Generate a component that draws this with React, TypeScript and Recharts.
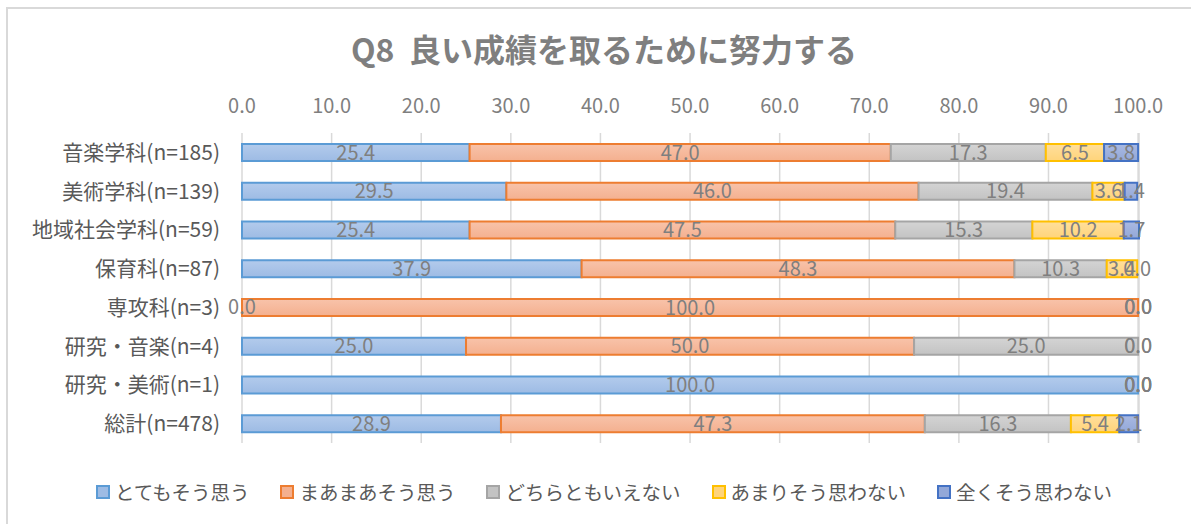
import React from "react"
import { Bar, BarChart, CartesianGrid, LabelList, ReferenceDot, XAxis, YAxis } from "recharts"

// categories (departments) and answer shares in %
const categories = [
  "音楽学科(n=185)",
  "美術学科(n=139)",
  "地域社会学科(n=59)",
  "保育科(n=87)",
  "専攻科(n=3)",
  "研究・音楽(n=4)",
  "研究・美術(n=1)",
  "総計(n=478)",
]
const veryMuch = [25.4, 29.5, 25.4, 37.9, 0.0, 25.0, 100.0, 28.9]
const somewhat = [47.0, 46.0, 47.5, 48.3, 100.0, 50.0, 0.0, 47.3]
const neither = [17.3, 19.4, 15.3, 10.3, 0.0, 25.0, 0.0, 16.3]
const notMuch = [6.5, 3.6, 10.2, 3.4, 0.0, 0.0, 0.0, 5.4]
const notAtAll = [3.8, 1.4, 1.7, 0.0, 0.0, 0.0, 0.0, 2.1]
const xTicks = [0, 10, 20, 30, 40, 50, 60, 70, 80, 90, 100]

const series = [
  { key: "s1", name: "とてもそう思う", values: veryMuch, top: "#b3cbec", bottom: "#9dbbe4", stroke: "#5b9bd5" },
  { key: "s2", name: "まあまあそう思う", values: somewhat, top: "#f8c3aa", bottom: "#f4b08f", stroke: "#ed7d31" },
  { key: "s3", name: "どちらともいえない", values: neither, top: "#d4d4d4", bottom: "#c3c3c3", stroke: "#a5a5a5" },
  { key: "s4", name: "あまりそう思わない", values: notMuch, top: "#ffdf9c", bottom: "#ffd47a", stroke: "#ffc000" },
  { key: "s5", name: "全くそう思わない", values: notAtAll, top: "#a9b9e2", bottom: "#93a8d8", stroke: "#4472c4" },
]

const data = categories.map((name, i) => {
  const row: { [k: string]: any } = { name }
  series.forEach((s) => {
    row[s.key] = s.values[i]
  })
  return row
})

// Excel still prints "0.0" for empty segments; recharts skips labels of zero-width bars,
// so those go in as reference dots at the stack position
const zeroLabels: { cat: string; at: number; id: string }[] = []
categories.forEach((cat, i) => {
  let acc = 0
  series.forEach((s) => {
    if (s.values[i] === 0) zeroLabels.push({ cat, at: acc, id: `${s.key}-${i}` })
    acc += s.values[i]
  })
})

const FONT = "'Noto Sans CJK JP', 'Noto Sans', sans-serif"
const TEXT = "#595959"
const LABEL = "#7f7f7f"

export default function App() {
  return (
    <div
      style={{
        position: "absolute",
        left: 0,
        top: 0,
        width: 1191,
        height: 524,
        overflow: "hidden",
        background: "#fff",
        fontFamily: FONT,
      }}
    >
      <div
        style={{
          position: "absolute",
          left: 6,
          top: 7,
          width: 1200,
          height: 530,
          borderLeft: "2px solid #d9d9d9",
          borderTop: "2px solid #d9d9d9",
        }}
      />
      <div
        style={{
          position: "absolute",
          left: 0,
          width: 1208,
          top: 26,
          textAlign: "center",
          fontSize: 32,
          fontWeight: "bold",
          color: LABEL,
          lineHeight: "44px",
          whiteSpace: "pre",
        }}
      >
        {"Q8  良い成績を取るために努力する"}
      </div>
      <div style={{ position: "absolute", left: 0, top: 0 }}>
        <BarChart
          width={1191}
          height={524}
          data={data}
          layout="vertical"
          margin={{ top: 80, right: 52, bottom: 81, left: 0 }}
          barSize={17}
        >
          <defs>
            {series.map((s) => (
              <linearGradient key={s.key} id={`g-${s.key}`} x1="0" y1="0" x2="0" y2="1">
                <stop offset="0%" stopColor={s.top} />
                <stop offset="100%" stopColor={s.bottom} />
              </linearGradient>
            ))}
          </defs>
          <CartesianGrid horizontal={false} stroke="#d9d9d9" strokeWidth={1.5} />
          <XAxis
            type="number"
            orientation="top"
            domain={[0, 100]}
            ticks={xTicks}
            height={53}
            axisLine={false}
            tickLine={false}
            tickSize={0}
            tickMargin={20}
            tickFormatter={(v: number) => v.toFixed(1)}
            tick={{ fill: LABEL, fontSize: 20 }}
          />
          <YAxis
            type="category"
            dataKey="name"
            width={242}
            axisLine={false}
            tickLine={false}
            tickSize={0}
            tickMargin={22}
            interval={0}
            tick={{ fill: TEXT, fontSize: 21 }}
          />
          {series.map((s) => (
            <Bar
              key={s.key}
              dataKey={s.key}
              name={s.name}
              stackId="a"
              fill={`url(#g-${s.key})`}
              stroke={s.stroke}
              strokeWidth={2}
              isAnimationActive={false}
            >
              <LabelList
                dataKey={s.key}
                position="center"
                fill={LABEL}
                stroke="none"
                fontSize={20}
                formatter={(v: any) => Number(v).toFixed(1)}
              />
            </Bar>
          ))}
          {zeroLabels.map((z) => (
            <ReferenceDot
              key={z.id}
              x={z.at}
              y={z.cat}
              r={0}
              fill="none"
              stroke="none"
              ifOverflow="visible"
              label={{ value: (0).toFixed(1), position: "center", fill: LABEL, fontSize: 20 }}
            />
          ))}
        </BarChart>
      </div>
      <div
        style={{
          position: "absolute",
          left: 0,
          width: 1208,
          top: 478,
          display: "flex",
          justifyContent: "center",
          gap: 31,
          fontSize: 19.5,
          color: TEXT,
          lineHeight: "28px",
        }}
      >
        {series.map((s) => (
          <div key={s.key} style={{ display: "flex", alignItems: "center", gap: 5 }}>
            <span
              style={{
                display: "inline-block",
                width: 10,
                height: 10,
                border: `2px solid ${s.stroke}`,
                background: s.bottom,
              }}
            />
            <span>{s.name}</span>
          </div>
        ))}
      </div>
    </div>
  )
}
